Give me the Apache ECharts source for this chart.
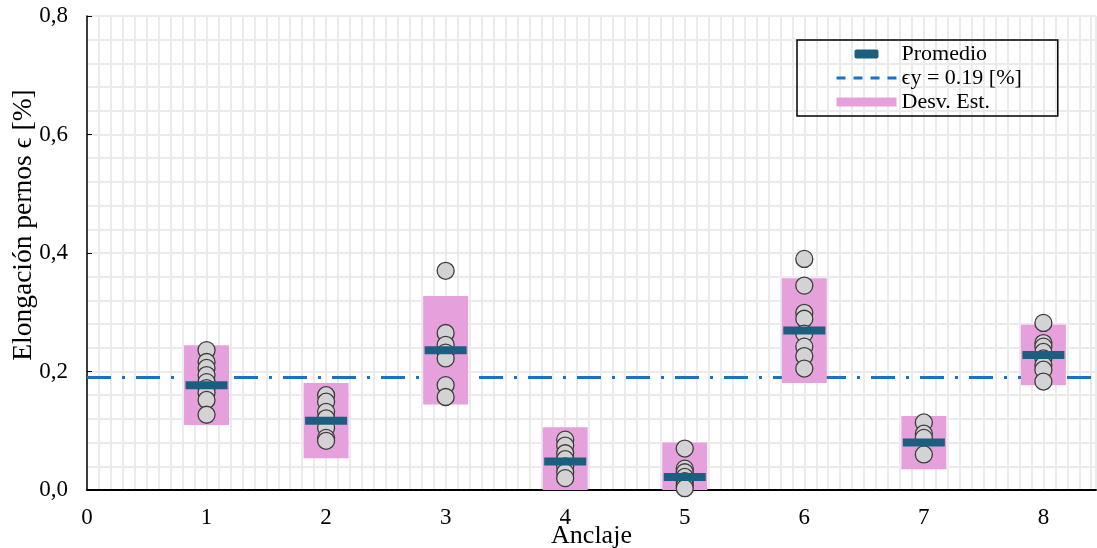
<!DOCTYPE html>
<html><head><meta charset="utf-8">
<script src="https://cdn.jsdelivr.net/npm/echarts@6/dist/echarts.min.js"></script>
<style>html,body{margin:0;padding:0;background:#fff}#c{width:1097px;height:548px}</style>
</head><body><div id="c"></div>
<script>
// ---- data ----
const anchors = [1, 2, 3, 4, 5, 6, 7, 8];
const pts1 = [0.236, 0.216, 0.206, 0.194, 0.182, 0.172, 0.164, 0.152, 0.127];
const pts2 = [0.160, 0.149, 0.132, 0.121, 0.105, 0.088, 0.083];
const pts3 = [0.370, 0.265, 0.245, 0.232, 0.222, 0.177, 0.157];
const pts4 = [0.085, 0.075, 0.062, 0.052, 0.040, 0.030, 0.020];
const pts5 = [0.070, 0.036, 0.030, 0.022, 0.015, 0.008, 0.003];
const pts6 = [0.390, 0.345, 0.299, 0.289, 0.264, 0.242, 0.226, 0.205];
const pts7 = [0.114, 0.095, 0.088, 0.060];
const pts8 = [0.282, 0.248, 0.242, 0.233, 0.222, 0.211, 0.203, 0.183];
const means = [0.177, 0.117, 0.236, 0.048, 0.022, 0.269, 0.080, 0.228];
const sds   = [0.0675, 0.0635, 0.0915, 0.058, 0.058, 0.0885, 0.045, 0.051];
const epsY = 0.19;
const yTicks = ['0,0', '0,2', '0,4', '0,6', '0,8'];
const xTicks = ['0', '1', '2', '3', '4', '5', '6', '7', '8'];

const groups = [pts1, pts2, pts3, pts4, pts5, pts6, pts7, pts8];
const XMAX = 8.44;
const FONT = 'Liberation Serif';

const scatterData = [];
groups.forEach((g, i) => g.forEach(v => scatterData.push([anchors[i], v])));
const meanData = anchors.map((a, i) => [a, means[i]]);
const sdData = anchors.map((a, i) => [a, means[i] - sds[i], means[i] + sds[i]]);

const chart = echarts.init(document.getElementById('c'), null, {renderer: 'canvas'});
chart.setOption({
  animation: false,
  backgroundColor: '#fff',
  grid: {left: 87, right: 1, top: 16, bottom: 58, containLabel: false, outerBoundsMode: 'none'},
  legend: {
    orient: 'vertical', left: 797, top: 40,
    itemWidth: 60, itemHeight: 9, itemGap: 2,
    borderColor: '#000', borderWidth: 1.5,
    padding: [3, 36, 3, 38],
    selectedMode: false,
    textStyle: {fontFamily: FONT, fontSize: 22, color: '#000'},
    data: [
      {name: 'Promedio', icon: 'path://M2,0h20a2,2 0 0 1 2,2v5a2,2 0 0 1 -2,2h-20a2,2 0 0 1 -2,-2v-5a2,2 0 0 1 2,-2z'},
      {name: 'ϵy = 0.19 [%]', lineStyle: {type: [9, 8], width: 3},
       itemStyle: {color: 'rgba(0,0,0,0)', borderWidth: 0, opacity: 0}},
      {name: 'Desv. Est.', icon: 'rect'}
    ]
  },
  xAxis: [{
    type: 'value', min: 0, max: XMAX, interval: 1,
    name: 'Anclaje', nameLocation: 'middle', nameGap: 33, nameMoveOverlap: false,
    nameTextStyle: {fontFamily: FONT, fontSize: 26, color: '#000'},
    axisLine: {show: true, onZero: false, lineStyle: {color: '#000', width: 2}},
    axisTick: {show: false},
    axisLabel: {fontFamily: FONT, fontSize: 23, color: '#000', margin: 16,
      formatter: v => { const i = Math.round(v); return Math.abs(v - i) < 1e-6 && i < xTicks.length ? xTicks[i] : ''; }},
    splitLine: {show: false}
  }, {
    type: 'value', min: 0, max: XMAX, interval: 0.1, position: 'bottom',
    axisLine: {show: false}, axisTick: {show: false}, axisLabel: {show: false},
    splitLine: {show: true, lineStyle: {color: '#ebebeb', width: 2}}
  }],
  yAxis: [{
    type: 'value', min: 0, max: 0.8, interval: 0.2,
    name: 'Elongación pernos ϵ [%]', nameLocation: 'middle', nameGap: 49, nameMoveOverlap: false,
    nameTextStyle: {fontFamily: FONT, fontSize: 27.5, color: '#000', padding: [0, 0, 0, 56]},
    axisLine: {show: true, lineStyle: {color: '#000', width: 1.5}},
    axisTick: {show: true, inside: true, length: 5, lineStyle: {color: '#000'}},
    axisLabel: {fontFamily: FONT, fontSize: 23, color: '#000', margin: 19,
      formatter: v => yTicks[Math.round(v / 0.2)]},
    splitLine: {show: false}
  }, {
    type: 'value', min: 0, max: 0.8, interval: 0.04, position: 'left',
    axisLine: {show: false}, axisTick: {show: false}, axisLabel: {show: false},
    splitLine: {show: true, lineStyle: {color: '#ebebeb', width: 2}}
  }],
  series: [
    {
      name: 'ϵy = 0.19 [%]', type: 'line', xAxisIndex: 0, yAxisIndex: 0, z: 2,
      data: [[0, epsY], [XMAX, epsY]], symbol: 'none',
      lineStyle: {color: '#1a72c0', width: 3, type: [24, 11, 3, 11]},
      itemStyle: {color: '#1a72c0'}
    },
    {
      name: 'Desv. Est.', type: 'custom', xAxisIndex: 0, yAxisIndex: 0, z: 3,
      itemStyle: {color: '#e6a1dd'},
      renderItem: (params, api) => {
        const top = api.coord([api.value(0), api.value(2)]);
        const bot = api.coord([api.value(0), api.value(1)]);
        const w = 45;
        return {
          type: 'rect',
          shape: {x: top[0] - w / 2, y: top[1], width: w, height: bot[1] - top[1]},
          style: {fill: '#e6a1dd'}
        };
      },
      clip: true,
      encode: {x: 0, y: [1, 2]},
      data: sdData
    },
    {
      name: 'Puntos', type: 'scatter', xAxisIndex: 0, yAxisIndex: 0, z: 4,
      symbol: 'circle', symbolSize: 17,
      itemStyle: {color: '#d3d3d3', borderColor: '#3c3c3c', borderWidth: 1.3, opacity: 1},
      data: scatterData
    },
    {
      name: 'Promedio', type: 'scatter', xAxisIndex: 0, yAxisIndex: 0, z: 5,
      symbol: 'rect', symbolSize: [42, 8],
      itemStyle: {color: '#1c5e80', opacity: 1},
      data: meanData
    }
  ]
});
</script></body></html>
